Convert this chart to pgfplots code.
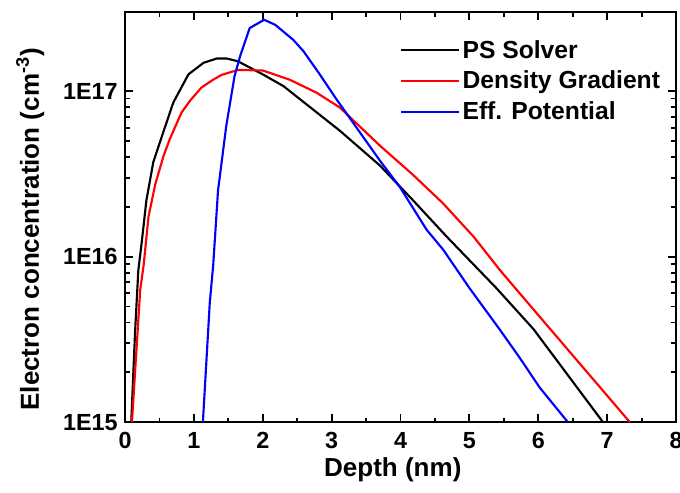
\documentclass[border=0pt]{standalone}
\usepackage{pgfplots}
\pgfplotsset{compat=1.18}
\usepackage{fontspec}
\setmainfont{Liberation Sans}
\begin{document}
\begin{tikzpicture}
\begin{axis}[
  scale only axis,
  width=413pt, height=307.5pt,
  xmin=0, xmax=8, ymin=1e15, ymax=3e17,
  ymode=log,
  xtick={0,1,2,3,4,5,6,7,8},
  minor xtick={0.5,1.5,2.5,3.5,4.5,5.5,6.5,7.5},
  ytick={1e15,1e16,1e17},
  yticklabels={1E15,1E16,1E17},
  xticklabels={0,1,2,3,4,5,6,7,8},
  tick align=inside,
  major tick length=6pt,
  minor tick length=3.5pt,
  axis line style={line width=1.6pt},
  every tick/.style={line width=1.4pt, black},
  tick label style={font=\bfseries\fontsize{17.5}{18}\selectfont},
  xticklabel style={yshift=-4pt},
  yticklabel style={xshift=-2pt},
  xlabel={\bfseries Depth (nm)},
  ylabel={\bfseries Electron concentration (cm\textsuperscript{-3})},
  label style={font=\bfseries\fontsize{19.5}{21}\selectfont},
  xlabel style={at={(axis description cs:0.486,-0.117)}, anchor=center},
  ylabel style={at={(axis description cs:-0.172,0.47)}, anchor=center},
  legend style={at={(axis description cs:0.492,0.945)}, anchor=north west, draw=none, fill=none,
    font=\bfseries\fontsize{18.5}{20}\selectfont, row sep=4.2pt,
    nodes={inner sep=2pt}},
  legend cell align=left,
  legend image code/.code={\draw[#1] (0pt,0pt) -- (43pt,0pt);},
  clip=true,
]
\addplot[black, line width=1.6pt] coordinates {
(0.09,1.0e15) (0.145,3.47e15) (0.17,5.5e15) (0.193,8.3e15) (0.24,1.20e16) (0.31,2.19e16)
(0.41,3.72e16) (0.53,5.25e16) (0.70,8.51e16) (0.92,1.26e17) (1.14,1.48e17) (1.33,1.57e17)
(1.48,1.57e17) (1.64,1.51e17) (2.0,1.26e17) (2.30,1.07e17) (3.12,5.75e16) (3.70,3.55e16)
(4.18,2.19e16) (4.67,1.32e16) (5.39,6.46e15) (5.93,3.65e15) (6.94,1.0e15)
};
\addlegendentry{PS Solver}
\addplot[red, line width=1.6pt] coordinates {
(0.10,1.0e15) (0.22,6.3e15) (0.27,8.9e15) (0.34,1.74e16) (0.44,2.75e16) (0.56,4.07e16)
(0.65,5.13e16) (0.82,7.41e16) (0.94,8.7e16) (1.11,1.05e17) (1.28,1.17e17) (1.40,1.25e17)
(1.64,1.34e17) (2.0,1.33e17) (2.39,1.17e17) (2.78,9.77e16) (3.12,7.94e16) (3.70,4.68e16)
(4.18,3.12e16) (4.62,2.09e16) (5.06,1.32e16) (5.44,8.32e15) (5.73,6.0e15) (7.33,1.0e15)
};
\addlegendentry{Density Gradient}
\addplot[blue, line width=1.6pt] coordinates {
(1.13,1.0e15) (1.23,5.25e15) (1.28,8.9e15) (1.35,2.51e16) (1.47,6.17e16) (1.59,1.23e17)
(1.67,1.62e17) (1.81,2.40e17) (2.02,2.69e17) (2.18,2.51e17) (2.44,2.04e17) (2.59,1.74e17)
(2.81,1.29e17) (3.07,8.91e16) (3.70,3.80e16) (3.99,2.63e16) (4.38,1.45e16) (4.62,1.10e16)
(5.00,6.46e15) (5.44,3.63e15) (5.73,2.45e15) (6.02,1.62e15) (6.43,1.0e15)
};
\addlegendentry{Eff. Potential}
\end{axis}
\pgfresetboundingbox
\path (current axis.south west) ++(-93.75pt,-52.5pt) coordinate (bl);
\path (current axis.north east) ++(3pt,9pt) coordinate (tr);
\path (bl) rectangle (tr);
\end{tikzpicture}
\end{document}
